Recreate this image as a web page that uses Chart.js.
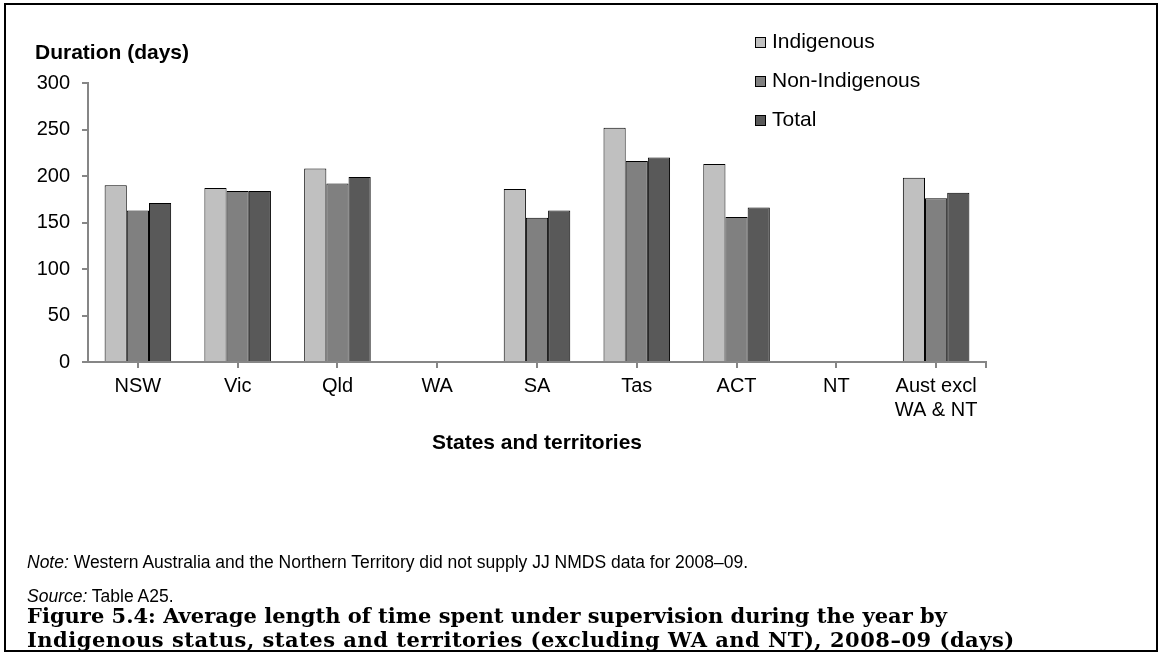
<!DOCTYPE html>
<html>
<head>
<meta charset="utf-8">
<script src="https://cdn.jsdelivr.net/npm/chart.js@4.4.1/dist/chart.umd.min.js"></script>
<style>
  body { margin: 0; background: #fff; font-family: "Liberation Sans", Arial, sans-serif; }
  #wrap { position: relative; width: 1160px; height: 655px; overflow: hidden; }
  #frame { position: absolute; left: 4px; top: 3px; width: 1154px; height: 649px; border: 2px solid #000; box-sizing: border-box; }
  canvas { position: absolute; left: 0; top: 0; }
  .txt { position: absolute; white-space: nowrap; color: #000; }
  #ytitle { left: 35px; top: 40px; font-size: 21px; font-weight: bold; }
  #xtitle { left: 537px; top: 430px; font-size: 21px; font-weight: bold; transform: translateX(-50%); }
  #legend { position: absolute; left: 755px; top: 29px; font-size: 21px; }
  .item { height: 39px; display: flex; align-items: flex-start; }
  .box { width: 9px; height: 9px; border: 1px solid #000; margin: 8px 6px 0 0; }
  #note { left: 27px; top: 552px; font-size: 17.5px; }
  #source { left: 27px; top: 586px; font-size: 17.5px; }
  #caption { left: 27px; top: 604px; font-family: "DejaVu Serif", serif; font-weight: bold; font-size: 21px; line-height: 24px; }
  #caption .l2 { letter-spacing: 0.5px; }
</style>
</head>
<body>
<div id="wrap">
  <canvas id="myChart" width="1160" height="655"></canvas>
  <div id="frame"></div>
  <div class="txt" id="ytitle">Duration (days)</div>
  <div class="txt" id="xtitle">States and territories</div>
  <div id="legend"></div>
  <div class="txt" id="note"><i>Note:</i> Western Australia and the Northern Territory did not supply JJ NMDS data for 2008–09.</div>
  <div class="txt" id="source"><i>Source:</i> Table A25.</div>
  <div class="txt" id="caption">Figure 5.4: Average length of time spent under supervision during the year by<br><span class="l2">Indigenous status, states and territories (excluding WA and NT), 2008–09 (days)</span></div>
</div>
<script>
const categories = ['NSW', 'Vic', 'Qld', 'WA', 'SA', 'Tas', 'ACT', 'NT', ['Aust excl', 'WA & NT']];
const indigenous = [190, 187, 208, null, 186, 252, 213, null, 198];
const nonIndigenous = [163, 184, 192, null, 155, 216, 156, null, 176];
const total = [171, 184, 199, null, 163, 220, 166, null, 182];
const yTicks = [0, 50, 100, 150, 200, 250, 300];

const axisGrey = '#868686';

// little tick at the right end of the x axis, like the original
const endTick = {
  id: 'endTick',
  afterDraw(chart) {
    const { ctx, chartArea } = chart;
    ctx.save();
    ctx.strokeStyle = axisGrey;
    ctx.lineWidth = 2;
    ctx.beginPath();
    ctx.moveTo(chartArea.right, chartArea.bottom);
    ctx.lineTo(chartArea.right, chartArea.bottom + 6);
    ctx.stroke();
    ctx.restore();
  }
};

const ctx = document.getElementById('myChart').getContext('2d');
const chart = new Chart(ctx, {
  type: 'bar',
  data: {
    labels: categories,
    datasets: [
      { label: 'Indigenous', data: indigenous, backgroundColor: '#c0c0c0', borderColor: '#000', borderWidth: 1 },
      { label: 'Non-Indigenous', data: nonIndigenous, backgroundColor: '#808080', borderColor: '#000', borderWidth: 1 },
      { label: 'Total', data: total, backgroundColor: '#595959', borderColor: '#000', borderWidth: 1 }
    ]
  },
  options: {
    responsive: false,
    animation: false,
    layout: { padding: { left: 30, right: 174, top: 83, bottom: 0 } },
    datasets: { bar: { barPercentage: 1, categoryPercentage: 0.667 } },
    plugins: { legend: { display: false }, tooltip: { enabled: false } },
    scales: {
      x: {
        afterFit(scale) { scale.height = 293; },
        grid: { display: true, drawOnChartArea: false, offset: false, tickLength: 6, color: axisGrey, lineWidth: 2 },
        border: { color: axisGrey, width: 2 },
        ticks: { color: '#000', padding: 6, font: { family: 'Liberation Sans', size: 20 }, maxRotation: 0, autoSkip: false }
      },
      y: {
        min: 0,
        max: 300,
        afterFit(scale) { scale.width = 58; },
        afterBuildTicks(scale) { scale.ticks = yTicks.map(v => ({ value: v })); },
        grid: { display: true, drawOnChartArea: false, tickLength: 6, color: axisGrey, lineWidth: 2 },
        border: { color: axisGrey, width: 2 },
        ticks: { color: '#000', padding: 12, font: { family: 'Liberation Sans', size: 20 } }
      }
    }
  },
  plugins: [endTick]
});

// legend built from the datasets
const legend = document.getElementById('legend');
chart.data.datasets.forEach(ds => {
  const item = document.createElement('div');
  item.className = 'item';
  const box = document.createElement('span');
  box.className = 'box';
  box.style.background = ds.backgroundColor;
  const label = document.createElement('span');
  label.textContent = ds.label;
  item.appendChild(box);
  item.appendChild(label);
  legend.appendChild(item);
});
</script>
</body>
</html>
